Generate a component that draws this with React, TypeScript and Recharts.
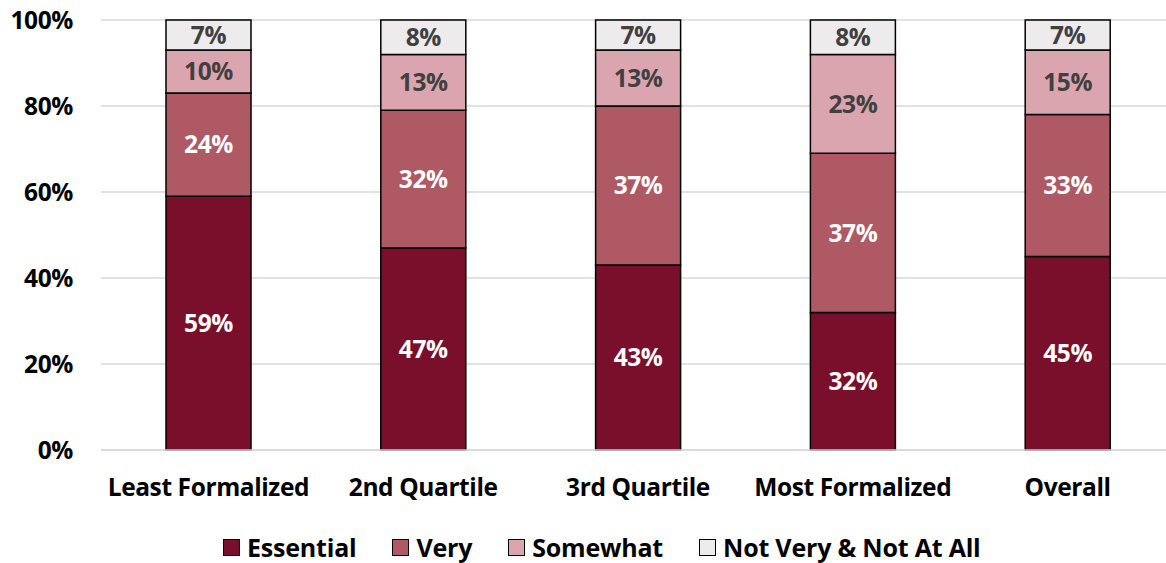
import React from 'react';
import { BarChart, Bar, XAxis, YAxis, CartesianGrid, Legend, LabelList } from 'recharts';

const categories = ['Least Formalized', '2nd Quartile', '3rd Quartile', 'Most Formalized', 'Overall'];
const essential = [59, 47, 43, 32, 45];
const very = [24, 32, 37, 37, 33];
const somewhat = [10, 13, 13, 23, 15];
const notVery = [7, 8, 7, 8, 7];
const yTicks = [0, 20, 40, 60, 80, 100];

const seriesNames = ['Essential', 'Very', 'Somewhat', 'Not Very & Not At All'];
const seriesColors = ['#7a0f2b', '#ae5964', '#dba5af', '#edebec'];

const data = categories.map((c, i) => ({
  name: c,
  essential: essential[i],
  very: very[i],
  somewhat: somewhat[i],
  notVery: notVery[i],
}));

const FONT = '"Open Sans", Lato, sans-serif';
const FS = 24.5;

const LegendContent = () => (
  <div style={{ display: 'flex', alignItems: 'center', paddingLeft: 223, paddingTop: 18, height: 32, fontFamily: FONT, fontWeight: 700, fontSize: 25, color: '#000', letterSpacing: -0.2 }}>
    {seriesNames.map((n, i) => (
      <div key={n} style={{ display: 'flex', alignItems: 'center', marginRight: 36 }}>
        <span style={{ display: 'inline-block', width: 15, height: 15, background: seriesColors[i], border: '1.5px solid #000', marginRight: 7 }} />
        <span>{n}</span>
      </div>
    ))}
  </div>
);

const fmt = (v: any) => `${v}%`;

export default function App() {
  const labelStyle = { fontFamily: FONT, fontWeight: 700, fontSize: FS, letterSpacing: -0.4 };
  const tickStyle = { fill: '#000', fontFamily: FONT, fontWeight: 700, fontSize: FS, letterSpacing: -0.4 };
  return (
    <div style={{ position: 'absolute', left: 0, top: 0, width: 1166, height: 563, overflow: 'hidden', background: '#fff' }}>
      <BarChart width={1180} height={563} data={data} margin={{ top: 20, right: 5, left: 0, bottom: 0 }} barSize={85}>
        <CartesianGrid vertical={false} stroke="#d9d9d9" strokeWidth={1.5} />
        <XAxis
          dataKey="name"
          height={63}
          axisLine={{ stroke: '#d9d9d9', strokeWidth: 1.5 }}
          tickLine={false}
          tickSize={0}
          tickMargin={29}
          tick={tickStyle}
          interval={0}
        />
        <YAxis
          width={101}
          domain={[0, 100]}
          ticks={yTicks}
          tickFormatter={fmt}
          axisLine={false}
          tickLine={false}
          tickSize={0}
          tickMargin={28}
          tick={tickStyle}
        />
        <Legend verticalAlign="bottom" height={50} content={<LegendContent />} />
        <Bar dataKey="essential" name={seriesNames[0]} stackId="a" fill={seriesColors[0]} stroke="#000" strokeWidth={1.5} isAnimationActive={false}>
          <LabelList dataKey="essential" position="center" formatter={fmt} fill="#fff" style={labelStyle} />
        </Bar>
        <Bar dataKey="very" name={seriesNames[1]} stackId="a" fill={seriesColors[1]} stroke="#000" strokeWidth={1.5} isAnimationActive={false}>
          <LabelList dataKey="very" position="center" formatter={fmt} fill="#fff" style={labelStyle} />
        </Bar>
        <Bar dataKey="somewhat" name={seriesNames[2]} stackId="a" fill={seriesColors[2]} stroke="#000" strokeWidth={1.5} isAnimationActive={false}>
          <LabelList dataKey="somewhat" position="center" formatter={fmt} fill="#404040" style={labelStyle} />
        </Bar>
        <Bar dataKey="notVery" name={seriesNames[3]} stackId="a" fill={seriesColors[3]} stroke="#000" strokeWidth={1.5} isAnimationActive={false}>
          <LabelList dataKey="notVery" position="center" formatter={fmt} fill="#404040" style={labelStyle} />
        </Bar>
      </BarChart>
    </div>
  );
}
